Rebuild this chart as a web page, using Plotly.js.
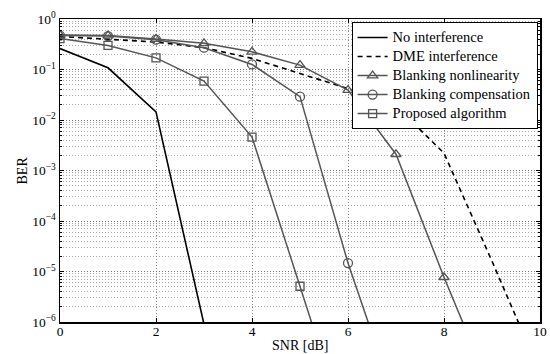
<!DOCTYPE html>
<html><head><meta charset="utf-8">
<script src="https://cdn.plot.ly/plotly-3.0.1.min.js"></script>
<style>html,body{margin:0;padding:0;background:#fff}#chart{width:550px;height:354px}</style>
</head><body><div id="chart"></div><script>
// Data
const snrNoInt = [0, 1, 2, 3];
const berNoInt = [0.26, 0.108, 0.0145, 9e-7];
const snrDme = [0, 1, 2, 3, 4, 5, 6, 7, 8, 9, 10];
const berDme = [0.45, 0.40, 0.35, 0.27, 0.166, 0.083, 0.042, 0.019, 0.0022, 1.6e-5, 1e-7];
const snrNonlin = [0, 1, 2, 3, 4, 5, 6, 7, 8, 9];
const berNonlin = [0.48, 0.47, 0.40, 0.33, 0.224, 0.122, 0.039, 0.0021, 7.7e-6, 4e-8];
const snrComp = [0, 1, 2, 3, 4, 5, 6, 7];
const berComp = [0.47, 0.46, 0.39, 0.27, 0.126, 0.029, 1.47e-5, 2.4e-8];
const snrProp = [0, 1, 2, 3, 4, 5, 6];
const berProp = [0.41, 0.30, 0.17, 0.059, 0.0046, 5.1e-6, 5.6e-9];

const seriesNames = ['No interference', 'DME interference', 'Blanking nonlinearity', 'Blanking compensation', 'Proposed algorithm'];
const xTickVals = [0, 2, 4, 6, 8, 10];
const yTickVals = [1e-6, 1e-5, 1e-4, 1e-3, 1e-2, 1e-1, 1];
const yTickText = ['10<sup>\u22126</sup>', '10<sup>\u22125</sup>', '10<sup>\u22124</sup>', '10<sup>\u22123</sup>', '10<sup>\u22122</sup>', '10<sup>\u22121</sup>', '10<sup>0</sup>'];
const xTitle = 'SNR [dB]';
const yTitle = 'BER';

const minorVals = [];
for (let d = -6; d < 0; d++) for (let k = 2; k <= 9; k++) minorVals.push(k * Math.pow(10, d));

const grey = '#555555';
const font = 'Liberation Serif';
const lg = n => '<span style="font-size:14.5px">' + n + '</span>';

const traces = [
  {x: snrNoInt, y: berNoInt, name: lg(seriesNames[0]), mode: 'lines', line: {color: '#000', width: 1.6}},
  {x: snrDme, y: berDme, name: lg(seriesNames[1]), mode: 'lines', line: {color: '#000', width: 1.6, dash: '5px,4px'}},
  {x: snrNonlin, y: berNonlin, name: lg(seriesNames[2]), mode: 'lines+markers', line: {color: grey, width: 1.5},
   marker: {symbol: 'triangle-up-open', size: 9, color: grey, line: {width: 1.3, color: grey}}},
  {x: snrComp, y: berComp, name: lg(seriesNames[3]), mode: 'lines+markers', line: {color: grey, width: 1.5},
   marker: {symbol: 'circle-open', size: 9, color: grey, line: {width: 1.3, color: grey}}},
  {x: snrProp, y: berProp, name: lg(seriesNames[4]), mode: 'lines+markers', line: {color: grey, width: 1.5},
   marker: {symbol: 'square-open', size: 8, color: grey, line: {width: 1.3, color: grey}}}
];

const layout = {
  width: 550, height: 354,
  margin: {l: 60, r: 10, t: 19, b: 32},
  paper_bgcolor: '#fff', plot_bgcolor: '#fff',
  font: {family: font, size: 13, color: '#000'},
  showlegend: true,
  legend: {x: 0.995, y: 0.99, xanchor: 'right', yanchor: 'top', bgcolor: '#fff',
           bordercolor: '#000', borderwidth: 1, font: {family: font, size: 11, color: '#000'},
           itemwidth: 30, tracegroupgap: 0},
  xaxis: {
    range: [0, 10], tickmode: 'array', tickvals: xTickVals, ticktext: xTickVals.map(String),
    ticks: 'inside', ticklen: 4, tickcolor: '#000', mirror: 'ticks', showline: true, linecolor: '#000', linewidth: 1.5,
    showgrid: true, gridcolor: '#888', griddash: '1px,2px', gridwidth: 1, zeroline: false,
    ticklabelstandoff: -4,
    tickfont: {family: font, size: 13.5}
  },
  yaxis: {
    type: 'log', range: [-6, 0], tickmode: 'array', tickvals: yTickVals, ticktext: yTickText,
    ticks: 'inside', ticklen: 4, tickcolor: '#000', mirror: 'ticks', showline: true, linecolor: '#000', linewidth: 1.5,
    showgrid: true, gridcolor: '#777', griddash: '1px,2px', gridwidth: 1, zeroline: false,
    minor: {tickmode: 'array', tickvals: minorVals, ticks: 'inside', ticklen: 2, tickcolor: '#000',
            showgrid: true, gridcolor: '#aaa', griddash: '1px,2px', gridwidth: 1},
    tickfont: {family: font, size: 13.5}
  },
  annotations: [
    {text: xTitle, xref: 'paper', yref: 'paper', x: 0.5, y: 0, xanchor: 'center', yanchor: 'middle',
     yshift: -23, showarrow: false, font: {family: font, size: 14, color: '#000'}},
    {text: yTitle, xref: 'paper', yref: 'paper', x: 0, y: 0.5, xanchor: 'center', yanchor: 'middle',
     xshift: -38, textangle: -90, showarrow: false, font: {family: font, size: 14, color: '#000'}}
  ]
};

Plotly.newPlot('chart', traces, layout, {displayModeBar: false, staticPlot: true});
</script></body></html>
